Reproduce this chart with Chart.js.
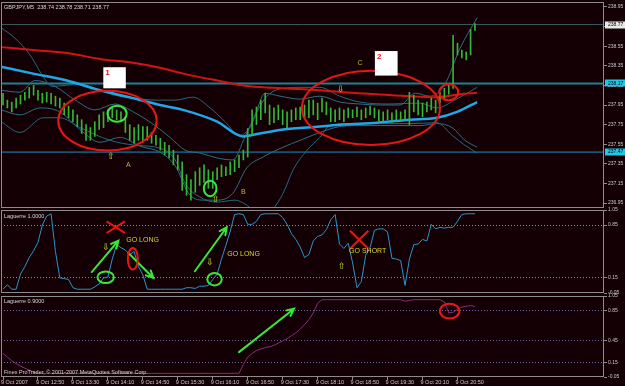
<!DOCTYPE html>
<html>
<head>
<meta charset="utf-8">
<title>GBPJPY M5</title>
<script src="https://cdn.jsdelivr.net/npm/chart.js@4/dist/chart.umd.min.js"></script>
<style>
html,body{margin:0;padding:0;background:#140004;overflow:hidden;}
#wrap{position:relative;width:625px;height:386px;background:#140004;overflow:hidden;}
#wrap canvas{position:absolute;left:0;}
</style>
</head>
<body>
<div id="wrap">
<canvas id="cMain" width="625" height="238" style="top:-8px"></canvas>
<canvas id="cLag1" width="625" height="110" style="top:200px"></canvas>
<canvas id="cLag2" width="625" height="100" style="top:286px"></canvas>
</div>
<script>
// ---------------- DATA ----------------
const headerText = 'GBPJPY,M5  238.74 238.78 238.71 238.77';
const priceTicks = [238.95,238.75,238.55,238.35,238.15,237.95,237.75,237.55,237.35,237.15,236.95];
const lag1Ticks = [-0.05,0.15,0.85,1.05];
const lag2Ticks = [-0.05,0.15,0.45,0.85,1.05];
const timeTickIdx = [0,8,16,24,32,40,48,56,64,72,80,88,96,104];
const timeTickLabels = ['9 Oct 2007','9 Oct 12:50','9 Oct 13:30','9 Oct 14:10','9 Oct 14:50','9 Oct 15:30','9 Oct 16:10','9 Oct 16:50','9 Oct 17:30','9 Oct 18:10','9 Oct 18:50','9 Oct 19:30','9 Oct 20:10','9 Oct 20:50'];

const barHigh = [238.07,238.00,237.98,238.02,238.05,238.08,238.13,238.15,238.10,238.07,238.08,238.07,238.04,238.02,237.97,237.94,237.90,237.85,237.80,237.75,
237.72,237.78,237.85,237.88,237.90,237.92,237.90,237.88,237.82,237.75,237.72,237.75,237.73,237.73,237.67,237.64,237.61,237.57,237.54,237.49,
237.44,237.37,237.24,237.19,237.27,237.31,237.34,237.29,237.27,237.31,237.34,237.32,237.37,237.39,237.44,237.49,237.71,237.90,237.93,238.00,
238.07,237.95,237.92,237.95,237.90,237.88,237.90,237.92,237.93,237.95,238.00,238.00,237.97,238.02,237.98,237.92,237.90,237.92,237.90,237.92,
237.90,237.93,237.90,237.92,237.94,237.92,237.90,237.88,237.90,237.87,237.90,237.88,237.90,238.08,238.05,238.00,237.97,237.98,238.02,238.00,
238.08,238.12,238.17,238.66,238.58,238.51,238.49,238.72,238.78];
const barLow = [237.95,237.92,237.88,237.92,237.96,238.00,238.02,238.05,238.00,237.97,237.98,237.96,237.94,237.92,237.85,237.82,237.78,237.73,237.66,237.59,
237.59,237.63,237.70,237.72,237.78,237.82,237.80,237.78,237.67,237.59,237.56,237.59,237.57,237.59,237.56,237.54,237.49,237.44,237.41,237.34,
237.29,237.08,237.03,236.98,237.06,237.13,237.16,237.10,237.10,237.19,237.22,237.23,237.24,237.27,237.31,237.39,237.42,237.64,237.75,237.80,
237.87,237.75,237.77,237.80,237.75,237.72,237.78,237.80,237.80,237.82,237.82,237.85,237.80,237.88,237.85,237.78,237.78,237.80,237.78,237.82,
237.82,237.83,237.80,237.82,237.85,237.82,237.79,237.78,237.80,237.77,237.80,237.78,237.80,237.75,237.88,237.85,237.83,237.88,237.90,237.87,
237.97,238.00,238.06,238.12,238.46,238.43,238.41,238.46,238.71];

// moving averages and bands: [bar index, price] points
const redMA = [[-0.45,238.54],[6.9,238.51],[14.6,238.48],[22.2,238.42],[29.7,238.38],[35.9,238.33],[41.2,238.27],[49.0,238.20],[56.5,238.14],[64.1,238.12],[72.5,238.10],[77.8,238.08],[85.6,238.06],[93.1,238.04],[99.3,238.03],[104.6,238.06],[108.5,238.075]];
const cyanMA = [[-0.45,238.34],[6.9,238.27],[14.6,238.20],[22.2,238.10],[29.7,238.02],[35.9,237.95],[41.2,237.90],[49.0,237.78],[54.9,237.63],[56.5,237.64],[64.1,237.70],[72.5,237.73],[77.8,237.75],[85.6,237.77],[93.1,237.80],[99.3,237.82],[103.9,237.88],[108.5,237.98]];
const bandU1 = [[-0.45,238.74],[2.75,238.63],[6.2,238.46],[8.9,238.26],[11.2,238.14],[14.2,238.15],[17.6,238.16],[21.05,238.12],[25.6,238.05],[30.2,238.02],[34.8,238.00],[39.4,238.00],[43.5,238.03],[47.4,237.92],[50.8,237.78],[54.2,237.64],[56.5,237.72],[58.35,237.90],[60.4,238.04],[64.1,238.12],[68.0,238.13],[72.5,238.13],[77.1,238.04],[81.7,237.98],[88.6,237.96],[95.4,237.97],[99.3,237.92],[103.4,238.00],[108.5,238.13]];
const bandD1 = [[-0.45,237.78],[3.9,237.67],[9.2,237.82],[13.0,237.82],[17.6,237.72],[24.5,237.59],[30.2,237.54],[35.9,237.51],[39.4,237.39],[41.7,237.15],[45.1,237.01],[49.0,236.96],[53.1,236.98],[55.4,236.94],[57.7,236.86],[59.3,236.82],[61.6,236.88],[64.1,237.05],[66.4,237.29],[69.6,237.49],[72.5,237.62],[74.8,237.74],[79.4,237.76],[86.3,237.76],[93.1,237.76],[99.3,237.77],[102.8,237.64],[105.7,237.54],[108.5,237.46]];
const bandU2 = [[-0.45,238.10],[3.9,238.08],[7.3,238.20],[11.9,238.14],[16.5,238.00],[21.05,237.90],[25.6,237.96],[30.2,237.87],[34.8,237.74],[38.2,237.62],[41.65,237.49],[45.1,237.46],[49.0,237.41],[52.6,237.39],[55.4,237.63],[57.7,237.85],[59.95,238.07],[63.4,238.04],[68.0,238.01],[72.5,238.04],[77.1,237.98],[81.7,237.96],[86.3,237.95],[90.85,237.95],[94.3,238.07],[97.7,238.04],[101.1,238.16],[104.6,238.53],[108.5,238.84]];
const bandD2 = [[-0.45,237.90],[3.9,237.85],[8.5,237.92],[13.0,237.88],[17.6,237.70],[22.2,237.57],[26.8,237.62],[31.35,237.53],[35.9,237.47],[39.4,237.33],[42.8,237.03],[46.2,236.98],[49.0,236.98],[52.6,237.05],[55.8,237.31],[59.5,237.42],[64.1,237.52],[68.0,237.59],[72.5,237.67],[77.1,237.73],[81.7,237.74],[86.3,237.74],[90.85,237.74],[95.4,237.74],[99.3,237.76],[102.75,237.72],[105.7,237.59],[108.5,237.52]];
const hLevels = [238.77, 238.17, 237.47];

const laguerre10 = [0.00,0.06,0.00,0.00,0.20,0.30,0.42,0.51,0.62,0.85,0.97,1.00,0.50,0.15,0.14,0.13,0.02,0.00,0.00,0.00,
0.00,0.03,0.07,0.15,0.16,0.40,0.59,0.55,0.52,0.46,0.50,0.30,0.19,0.00,0.00,0.00,0.00,0.00,0.00,0.00,
0.00,0.00,0.02,0.02,0.01,0.04,0.04,0.05,0.13,0.20,0.40,0.58,0.77,0.99,1.00,0.99,0.86,0.86,0.90,0.99,
1.00,1.00,1.00,1.00,0.95,0.86,0.74,0.66,0.56,0.42,0.46,0.64,0.70,0.72,0.79,0.92,0.99,0.60,0.54,0.61,
0.35,0.02,0.10,0.45,0.55,0.78,0.80,0.80,0.76,0.41,0.40,0.38,0.05,0.40,0.59,0.60,0.66,0.64,0.86,0.80,
0.82,0.81,0.82,0.82,0.90,0.99,1.00,1.00,1.00];
const laguerre09 = [0.27,0.22,0.17,0.13,0.10,0.07,0.04,0.02,0.00,0.00,0.00,0.00,0.00,0.00,0.00,0.00,0.00,0.00,0.00,0.00,
0.00,0.00,0.00,0.00,0.00,0.00,0.00,0.00,0.00,0.00,0.00,0.00,0.00,0.00,0.00,0.00,0.00,0.00,0.00,0.00,
0.00,0.00,0.00,0.00,0.00,0.00,0.00,0.00,0.00,0.00,0.00,0.00,0.00,0.00,0.00,0.12,0.22,0.27,0.31,0.33,
0.35,0.36,0.38,0.41,0.44,0.47,0.51,0.55,0.60,0.66,0.73,0.82,0.95,1.00,1.00,1.00,1.00,1.00,1.00,1.00,
1.00,1.00,1.00,1.00,1.00,1.00,1.00,1.00,1.00,1.00,1.00,1.00,0.98,0.99,1.00,1.00,1.00,1.00,1.00,1.00,
1.00,0.97,0.82,0.83,0.87,0.90,0.91,0.92,0.91];

// hand-drawn annotations, in data units: [bar index, value, ...]
const mainRedEllipses = [[23.9,237.79,11.26,0.305],[84.2,237.92,15.8,0.378],[102.0,238.08,2.17,0.081]];
const mainGreenCircles = [[26.1,237.86,2.2,0.082],[47.4,237.10,1.45,0.079]];
const mainBoxes = [[22.95,238.335,28.1,238.12,'1'],[85.1,238.50,90.3,238.25,'2']];
const mainLetters = [['A',28.7,237.335],['B',55.0,237.06],['C',81.7,238.375]];
const mainMarks = [['\u21E9',77.3,238.11],['\u21E7',24.7,237.42],['\u21E7',48.7,236.99]];
const lag1Crosses = [[25.8,0.822,2.1,0.077],[81.5,0.656,2.1,0.119]];
const lag1Arrows = [[20.3,0.228,26.4,0.643],[28.7,0.48,34.4,0.149],[43.9,0.238,51.2,0.821]];
const lag1GreenCircles = [[23.5,0.159,1.88,0.077],[48.4,0.133,1.65,0.082]];
const lag1RedEllipses = [[29.7,0.403,1.14,0.143]];
const lag1Texts = [['GO LONG',28.2,0.656],['GO LONG',51.3,0.471],['GO SHORT',79.2,0.51]];
const lag1Marks = [['\u21E9',23.6,0.556],['\u21E9',47.4,0.348],['\u21E7',77.5,0.295]];
const lag2Arrows = [[54.0,0.288,66.6,0.878]];
const lag2RedEllipses = [[102.2,0.845,2.23,0.101]];

// ---------------- RENDER ----------------
const FONT = "'Liberation Sans', 'DejaVu Sans', Arial, sans-serif";
Chart.defaults.font.family = FONT;
Chart.defaults.font.size = 5.5;
Chart.defaults.color = '#c8c8c8';
Chart.defaults.animation = false;
Chart.defaults.plugins.legend.display = false;
Chart.defaults.plugins.tooltip.enabled = false;

const X_MIN = -0.46, X_MAX = 137.53;
const GREEN = '#38e838', RED = '#e81616', YEL = '#d4d42c', MARK = '#a0b828';

function P(ch, i){ return ch.scales.x.getPixelForValue(i); }
function V(ch, v){ return ch.scales.y.getPixelForValue(v); }
function drawEllipse(ctx, ch, e, color){
  const cx = P(ch,e[0]), cy = V(ch,e[1]);
  const rx = Math.abs(P(ch,e[0]+e[2]) - cx), ry = Math.abs(V(ch,e[1]+e[3]) - cy);
  ctx.beginPath(); ctx.ellipse(cx, cy, rx, ry, 0, 0, Math.PI*2);
  ctx.strokeStyle = color; ctx.lineWidth = 2; ctx.stroke();
}
function drawArrow(ctx, ch, a){
  const x0=P(ch,a[0]), y0=V(ch,a[1]), x1=P(ch,a[2]), y1=V(ch,a[3]);
  const ang = Math.atan2(y1-y0, x1-x0), hl = 8;
  ctx.strokeStyle = GREEN; ctx.lineWidth = 2; ctx.lineCap='round';
  ctx.beginPath(); ctx.moveTo(x0,y0); ctx.lineTo(x1,y1);
  ctx.moveTo(x1 - hl*Math.cos(ang-0.45), y1 - hl*Math.sin(ang-0.45)); ctx.lineTo(x1,y1);
  ctx.lineTo(x1 - hl*Math.cos(ang+0.45), y1 - hl*Math.sin(ang+0.45));
  ctx.stroke();
}
function drawCross(ctx, ch, c){
  const x0=P(ch,c[0]-c[2]), x1=P(ch,c[0]+c[2]), y0=V(ch,c[1]+c[3]), y1=V(ch,c[1]-c[3]);
  ctx.strokeStyle = RED; ctx.lineWidth = 2; ctx.lineCap='butt';
  ctx.beginPath(); ctx.moveTo(x0,y0); ctx.lineTo(x1,y1); ctx.moveTo(x0,y1); ctx.lineTo(x1,y0); ctx.stroke();
}
function drawText(ctx, ch, t, color, font, align){
  ctx.fillStyle = color; ctx.font = font; ctx.textAlign = align; ctx.textBaseline = 'middle';
  ctx.fillText(t[0], P(ch,t[1]), V(ch,t[2]));
}
const framePlugin = { id:'frame', afterDraw(ch){
  const {ctx, chartArea:a} = ch; ctx.save();
  ctx.strokeStyle = '#8c8c8c'; ctx.lineWidth = 1;
  ctx.strokeRect(Math.round(a.left)+0.5, Math.round(a.top)+0.5, Math.round(a.right-a.left)-1, Math.round(a.bottom-a.top)-1);
  ctx.restore();
}};

function xAxis(show){
  return { type:'linear', min:X_MIN, max:X_MAX, offset:false, display:show,
    afterBuildTicks: s => { s.ticks = timeTickIdx.map(v => ({value:v})); },
    grid:{ display:true, drawOnChartArea:false, tickLength:3, color:'#8c8c8c', offset:false },
    border:{ display:false },
    ticks:{ autoSkip:false, maxRotation:0, minRotation:0, align:'start', padding:0, labelOffset:-2,
      color:'#c8c8c8', font:{size:5.5, lineHeight:1},
      callback:(v, idx) => timeTickLabels[idx] } ,
    afterFit: s => { s.height = 9; } };
}
function yAxis(min, max, tickVals, dotted, dotColor){
  return { position:'right', min, max,
    afterBuildTicks: s => { s.ticks = tickVals.map(v => ({value:v})); },
    afterFit: s => { s.width = 21; },
    grid:{ drawOnChartArea: dotted.length>0, tickLength:3, tickColor:'#8c8c8c',
      color: c => (c.tick && dotted.some(d => Math.abs(d - c.tick.value) < 1e-6)) ? dotColor : 'rgba(0,0,0,0)' },
    border:{ display:false, dash:[1,2] },
    ticks:{ color:'#c8c8c8', padding:1, font:{size:5, lineHeight:1}, callback: v => Number(v).toFixed(2) } };
}
const lineDs = (pts, color, w, order) => ({ type:'line', data: pts.map(p => ({x:p[0], y:p[1]})),
  borderColor:color, borderWidth:w, pointRadius:0, tension:0.4, cubicInterpolationMode:'monotone', fill:false, clip:0, order });

// main price panel
new Chart(document.getElementById('cMain'), {
  type:'bar',
  data:{ datasets:[
    { type:'bar', data: barLow.map((l,i) => ({x:i, y:[l, barHigh[i]]})), backgroundColor:'#34b634', borderWidth:0, barThickness:1, order:0 },
    lineDs(redMA, '#d41414', 2, 1),
    lineDs(cyanMA, '#1ea8e8', 2.5, 1),
    lineDs(bandU1, '#26687e', 1, 2),
    lineDs(bandD1, '#26687e', 1, 2),
    lineDs(bandU2, '#2a6e84', 1, 2),
    lineDs(bandD2, '#2a6e84', 1, 2),
    ...hLevels.map((h,k) => ({ type:'line', data:[{x:X_MIN,y:h},{x:X_MAX,y:h}], borderColor:['#3d5a5c','#1b8494','#1a92c4'][k],
      borderWidth:[1,2,1][k], pointRadius:0, clip:0, order:3 }))
  ]},
  options:{ responsive:false, layout:{ padding:{left:1, top:10, right:0, bottom:22} },
    scales:{ x: { type:'linear', min:X_MIN, max:X_MAX, offset:false, display:false },
             y: yAxis(236.9, 239.0, priceTicks, [], '') } },
  plugins:[framePlugin, { id:'annMain', afterDraw(ch){
    const ctx = ch.ctx, a = ch.chartArea; ctx.save();
    ctx.beginPath(); ctx.rect(a.left, a.top, a.right-a.left, a.bottom-a.top); ctx.clip();
    mainRedEllipses.forEach(e => drawEllipse(ctx, ch, e, RED));
    mainGreenCircles.forEach(e => drawEllipse(ctx, ch, e, GREEN));
    mainBoxes.forEach(b => {
      const x0=P(ch,b[0]), y0=V(ch,b[1]), x1=P(ch,b[2]), y1=V(ch,b[3]);
      ctx.fillStyle = '#ffffff'; ctx.fillRect(x0, y0, x1-x0, y1-y0);
      ctx.fillStyle = RED; ctx.font = 'bold 8px ' + FONT; ctx.textAlign='left'; ctx.textBaseline='top';
      ctx.fillText(b[4], x0+2, y0+1.5);
    });
    mainLetters.forEach(t => drawText(ctx, ch, t, '#c8b414', '7px ' + FONT, 'center'));
    mainMarks.forEach(t => drawText(ctx, ch, t, MARK, 'bold 9px ' + FONT, 'center'));
    ctx.restore();
    // header
    ctx.save(); ctx.fillStyle = '#d8d8d8'; ctx.font = '5.5px ' + FONT; ctx.textAlign='left'; ctx.textBaseline='middle';
    ctx.fillText(headerText, a.left+3, a.top+5);
    // price tags on the axis
    const tags = [[hLevels[0],'#e8e8e8'],[hLevels[1],'#1ec8e8'],[hLevels[2],'#1ec8e8']];
    tags.forEach(t => {
      const y = V(ch, t[0]);
      ctx.fillStyle = t[1]; ctx.fillRect(a.right+1, Math.round(y)-3.5, 20, 7);
      ctx.fillStyle = '#000000'; ctx.font = '5px ' + FONT; ctx.fillText(t[0].toFixed(2), a.right+4, y);
    });
    ctx.restore();
  }}]
});

// Laguerre 1.0
new Chart(document.getElementById('cLag1'), {
  type:'line',
  data:{ datasets:[ { data: laguerre10.map((v,i) => ({x:i, y:v})), borderColor:'#2a94cc', borderWidth:1, pointRadius:0, tension:0, clip:0 } ] },
  options:{ responsive:false, layout:{ padding:{left:1, top:10, right:0, bottom:17} },
    scales:{ x: { type:'linear', min:X_MIN, max:X_MAX, offset:false, display:false },
             y: yAxis(-0.05, 1.05, lag1Ticks, [0.15,0.85], '#8a8a8a') } },
  plugins:[framePlugin, { id:'annL1', afterDraw(ch){
    const ctx = ch.ctx, a = ch.chartArea; ctx.save();
    ctx.beginPath(); ctx.rect(a.left, a.top, a.right-a.left, a.bottom-a.top); ctx.clip();
    lag1Crosses.forEach(c => drawCross(ctx, ch, c));
    lag1Arrows.forEach(r => drawArrow(ctx, ch, r));
    lag1GreenCircles.forEach(e => drawEllipse(ctx, ch, e, GREEN));
    lag1RedEllipses.forEach(e => drawEllipse(ctx, ch, e, RED));
    lag1Texts.forEach(t => drawText(ctx, ch, t, YEL, '7px ' + FONT, 'left'));
    lag1Marks.forEach(t => drawText(ctx, ch, t, MARK, 'bold 9px ' + FONT, 'center'));
    ctx.fillStyle = '#d8d8d8'; ctx.font = '5.5px ' + FONT; ctx.textAlign='left'; ctx.textBaseline='middle';
    ctx.fillText('Laguerre 1.0000', a.left+3, a.top+6);
    ctx.restore();
  }}]
});

// Laguerre 0.9
new Chart(document.getElementById('cLag2'), {
  type:'line',
  data:{ datasets:[ { data: laguerre09.map((v,i) => ({x:i, y:v})), borderColor:'#84307a', borderWidth:1, pointRadius:0, tension:0, clip:0 } ] },
  options:{ responsive:false, layout:{ padding:{left:1, top:10, right:0, bottom:0} },
    scales:{ x: xAxis(true),
             y: yAxis(-0.05, 1.05, lag2Ticks, [0.15,0.45,0.85], '#6a6aa8') } },
  plugins:[framePlugin, { id:'annL2', afterDraw(ch){
    const ctx = ch.ctx, a = ch.chartArea; ctx.save();
    ctx.beginPath(); ctx.rect(a.left, a.top, a.right-a.left, a.bottom-a.top); ctx.clip();
    lag2Arrows.forEach(r => drawArrow(ctx, ch, r));
    lag2RedEllipses.forEach(e => drawEllipse(ctx, ch, e, RED));
    ctx.fillStyle = '#d8d8d8'; ctx.font = '5.5px ' + FONT; ctx.textAlign='left'; ctx.textBaseline='middle';
    ctx.fillText('Laguerre 0.9000', a.left+3, a.top+5);
    ctx.fillText('Finex ProTrader, \u00A9 2001-2007 MetaQuotes Software Corp.', a.left+3, a.bottom-5);
    ctx.restore();
  }}]
});
</script>
</body>
</html>
